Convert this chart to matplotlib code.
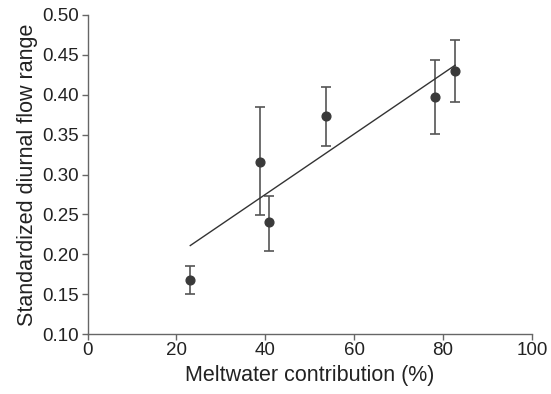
import matplotlib
matplotlib.use("Agg")
import matplotlib.pyplot as plt

plt.rcParams['font.family'] = ['Liberation Sans', 'DejaVu Sans']

# data
melt = [23.1, 38.8, 40.8, 53.7, 78.2, 82.7]
flow = [0.168, 0.316, 0.240, 0.373, 0.397, 0.430]
err_low = [0.150, 0.249, 0.204, 0.336, 0.351, 0.391]
err_high = [0.185, 0.385, 0.273, 0.410, 0.443, 0.469]

fit_x = [23.1, 82.7]
fit_y = [0.211, 0.437]

yerr = [[f - lo for f, lo in zip(flow, err_low)],
        [hi - f for f, hi in zip(flow, err_high)]]

fig = plt.figure(figsize=(5.51, 3.94), dpi=100)
ax = fig.add_axes([0.159, 0.152, 0.8065, 0.81])

ax.errorbar(melt, flow, yerr=yerr, fmt='none', ecolor='#555555',
            elinewidth=1.2, capsize=3.4, capthick=1.2)
ax.plot(fit_x, fit_y, color='#333333', lw=1.0)
ax.plot(melt, flow, 'o', color='#3a3a3a', ms=6.3, zorder=3)

ax.set_xlim(0, 100)
ax.set_ylim(0.10, 0.50)
ax.set_xticks([0, 20, 40, 60, 80, 100])
ax.set_yticks([0.10, 0.15, 0.20, 0.25, 0.30, 0.35, 0.40, 0.45, 0.50])
ax.yaxis.set_major_formatter(matplotlib.ticker.FormatStrFormatter('%.2f'))

for s in ['top', 'right']:
    ax.spines[s].set_visible(False)
for s in ['left', 'bottom']:
    ax.spines[s].set_color('#666666')
    ax.spines[s].set_linewidth(1.0)
ax.tick_params(colors='#666666', labelcolor='#222222', labelsize=13.5,
               length=4, width=1.0, pad=2)

ax.set_xlabel('Meltwater contribution (%)', fontsize=15.5, color='#222222', labelpad=4)
ax.set_ylabel('Standardized diurnal flow range', fontsize=15.5, color='#222222', labelpad=3)

fig.savefig('out.png', dpi=100)
